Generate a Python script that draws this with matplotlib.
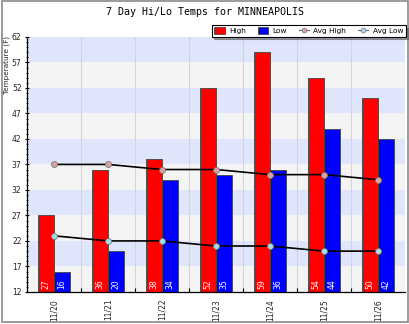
import matplotlib
matplotlib.use("Agg")
import matplotlib.pyplot as plt
from matplotlib.patches import Rectangle
from matplotlib.lines import Line2D
import numpy as np

# 7 günlük sıcaklık verisi
days = ["11/20", "11/21", "11/22", "11/23", "11/24", "11/25", "11/26"]
highs = [27, 36, 38, 52, 59, 54, 50]
lows = [16, 20, 34, 35, 36, 44, 42]
avg_highs = [37, 37, 36, 36, 35, 35, 34]
avg_lows = [23, 22, 22, 21, 21, 20, 20]

y_min, y_max, y_step = 12, 62, 5

fig = plt.figure(figsize=(4.10, 3.24), dpi=100)
fig.patch.set_facecolor("white")
# dış çerçeve
fig.add_artist(Rectangle((0.004, 0.006), 0.99, 0.99, transform=fig.transFigure,
                         fill=False, edgecolor="#8a8a8a", linewidth=1.2))

ax = fig.add_axes([0.066, 0.099, 0.922, 0.787])
x = np.arange(len(days))
w = 0.3

# arka plan bantları
for i, lo in enumerate(range(y_min, y_max, y_step)):
    col = "#f4f4f4" if i % 2 == 0 else "#dfe6fb"
    ax.axhspan(lo, lo + y_step, color=col, zorder=0, linewidth=0)
for b in x[:-1] + 0.5:
    ax.axvline(b, color="#d4d4d4", linewidth=0.8, zorder=0.5)

ax.bar(x - w / 2, [h - y_min for h in highs], w, bottom=y_min, color="#ff0000",
       edgecolor="#444444", linewidth=0.6, zorder=2)
ax.bar(x + w / 2, [l - y_min for l in lows], w, bottom=y_min, color="#0000ff",
       edgecolor="#444444", linewidth=0.6, zorder=2)

for xi, h, l in zip(x, highs, lows):
    ax.text(xi - w / 2, y_min + 0.6, str(h), rotation=90, color="white",
            fontsize=5.5, ha="center", va="bottom", zorder=3)
    ax.text(xi + w / 2, y_min + 0.6, str(l), rotation=90, color="white",
            fontsize=5.5, ha="center", va="bottom", zorder=3)

ax.plot(x, avg_highs, color="black", linewidth=1.2, marker="o", markersize=4.3,
        markerfacecolor="#d9a3a3", markeredgecolor="#777777", markeredgewidth=0.6, zorder=4)
ax.plot(x, avg_lows, color="black", linewidth=1.2, marker="o", markersize=4.3,
        markerfacecolor="#a6dcea", markeredgecolor="#777777", markeredgewidth=0.6, zorder=4)

ax.set_xlim(-0.5, len(days) - 0.5)
ax.set_ylim(y_min, y_max)
ax.set_yticks(range(y_min, y_max + 1, y_step))
ax.set_yticks(range(y_min, y_max + 1), minor=True)
ax.tick_params(axis="y", which="major", labelsize=5.5, length=3, width=0.8,
               direction="inout", pad=2.5, labelcolor="#222222")
ax.tick_params(axis="y", which="minor", length=2, width=0.6, direction="inout")

ax.set_xticks(x)
ax.set_xticklabels(days, rotation=90, fontsize=5.5, color="#222222")
ax.tick_params(axis="x", which="major", length=0, pad=5)
ax.set_xticks(x[:-1] + 0.5, minor=True)
ax.tick_params(axis="x", which="minor", length=3, direction="in", width=0.8)

for side in ["top", "right"]:
    ax.spines[side].set_visible(False)
ax.spines["left"].set_linewidth(0.9)
ax.spines["bottom"].set_linewidth(0.9)

fig.text(0.016, 0.89, "Temperature (F)", rotation=90, fontsize=5.2,
         ha="center", va="top", color="#222222")
fig.text(0.5, 0.963, "7 Day Hi/Lo Temps for MINNEAPOLIS", fontsize=7.2,
         family="DejaVu Sans Mono", ha="center", va="center")

handles = [
    Rectangle((0, 0), 1, 1, facecolor="#ff0000", edgecolor="#444444", linewidth=0.6),
    Rectangle((0, 0), 1, 1, facecolor="#0000ff", edgecolor="#444444", linewidth=0.6),
    Line2D([], [], color="#666666", linewidth=0.8, marker="o", markersize=3.5,
           markerfacecolor="#d9a3a3", markeredgecolor="#777777", markeredgewidth=0.5),
    Line2D([], [], color="#666666", linewidth=0.8, marker="o", markersize=3.5,
           markerfacecolor="#a6dcea", markeredgecolor="#777777", markeredgewidth=0.5),
]
leg = fig.legend(handles, ["High", "Low", "Avg High", "Avg Low"], ncol=4,
                 loc="center", bbox_to_anchor=(0.753, 0.905), fontsize=5.3,
                 frameon=True, fancybox=False, shadow=True, handlelength=1.4,
                 handleheight=0.9, handletextpad=0.6, columnspacing=1.6,
                 borderpad=0.35, borderaxespad=0)
leg.get_frame().set_edgecolor("black")
leg.get_frame().set_linewidth(0.8)

fig.savefig("out.png", dpi=100)
